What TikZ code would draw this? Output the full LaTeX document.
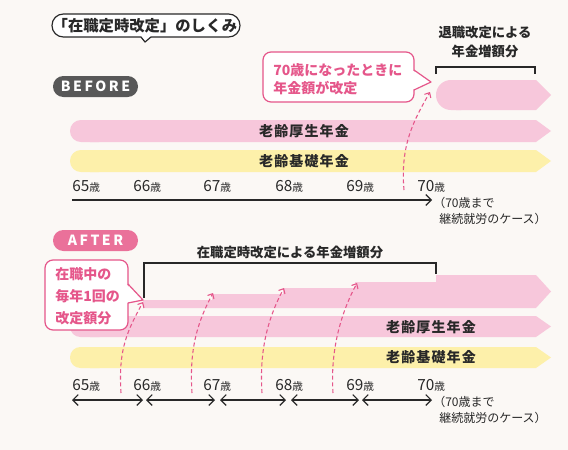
\documentclass[tikz,border=0pt]{standalone}
\usepackage{fontspec}
\newfontfamily\jp{Noto Sans CJK JP}
\usetikzlibrary{arrows.meta}
\definecolor{paper}{RGB}{251,248,245}
\definecolor{barpink}{RGB}{247,199,219}
\definecolor{baryellow}{RGB}{253,240,170}
\definecolor{rose}{RGB}{229,86,138}
\definecolor{afterpink}{RGB}{234,113,154}
\definecolor{ink}{RGB}{40,40,40}
\definecolor{pillgray}{RGB}{88,88,88}
% age label with the small "sai"
\newcommand\agetxt[1]{#1{\fontsize{8}{9}\selectfont 歳}}
% colour, left x, top y, bottom y, end radius (pt)
\newcommand\longbar[5]{%
  \fill[#1, rounded corners=#5] (#2,#3) rectangle ({#2+40},#4);
  \fill[#1] ({#2+20},#3) -- (536,#3) -- (551,{(#3+#4)/2}) -- (536,#4) -- ({#2+20},#4) -- cycle;}
\begin{document}
\begin{tikzpicture}[x=0.75pt, y=-0.75pt, >={Straight Barb[length=3pt,width=5.5pt]},
    jtxt/.style={font=\jp\fontsize{9}{12.3}\selectfont, text=ink, inner sep=0pt},
    bartxt/.style={font=\jp\bfseries\addfontfeature{LetterSpace=8}\fontsize{10.5}{13}\selectfont, text=ink, inner sep=0pt},
    headtxt/.style={font=\jp\bfseries\fontsize{10}{14.5}\selectfont, text=ink, inner sep=0pt, align=center},
    rosetxt/.style={font=\jp\bfseries\fontsize{10.5}{13.5}\selectfont, text=rose, inner sep=0pt, align=left, anchor=west},
    pilltxt/.style={font=\jp\bfseries\addfontfeature{LetterSpace=18}\fontsize{10.5}{12}\selectfont, text=white, inner sep=0pt},
    age/.style={font=\jp\fontsize{11.5}{12}\selectfont, text=ink, inner sep=0pt, anchor=west},
    callout/.style={draw=rose, line width=0.9pt, fill=white, rounded corners=6},
    bracket/.style={ink, line width=0.9pt},
    dasharr/.style={rose, dash pattern=on 3pt off 2pt, line width=0.8pt, ->},
    span/.style={ink, line width=0.9pt, {Straight Barb[length=4pt,width=8pt]}-{Straight Barb[length=4pt,width=8pt]}},
]
\useasboundingbox (0,0) rectangle (568,450);
\fill[paper] (0,0) rectangle (568,450);

% title bubble
\draw[ink, line width=0.9pt, fill=white, rounded corners=8.5] (52,14) rectangle (240,37);
\fill[white] (141,36) -- (145,42) -- (151,36) -- cycle;
\draw[ink, line width=0.9pt, line join=round] (141,37) -- (145,42) -- (151,37);
\node[font=\jp\bfseries\fontsize{11.5}{12}\selectfont, text=ink, inner sep=0pt] (title) at (145,25.5) {「在職定時改定」のしくみ};

% ---------- BEFORE ----------
\fill[pillgray, rounded corners=7.8] (53,76) rectangle (138,97);
\node[pilltxt] (before) at (95.5,86.5) {BEFORE};

% increase at 70
\draw[bracket] (436,74) -- (436,67) -- (535,67) -- (535,74);
\node[headtxt] (retireB) at (485,42) {退職改定による\\年金増額分};
\longbar{barpink}{436}{80}{110}{11.2}

% callout
\draw[callout] (263,52) rectangle (414,102);
\fill[white] (412,70) -- (431,82) -- (412,90) -- cycle;
\draw[rose, line width=0.9pt, line join=round] (414,70) -- (431,82) -- (414,90);
\node[rosetxt] (noteB) at (273,79) {70歳になったときに\\年金額が改定};

% the two pensions
\longbar{barpink}{70}{120}{142}{8.2}
\longbar{baryellow}{70}{150}{172}{8.2}
\node[bartxt] (koseiB) at (304,131) {老齢厚生年金};
\node[bartxt] (kisoB) at (304,161) {老齢基礎年金};

% ages
\foreach \x/\a in {72/65,133/66,203/67,275/68,346/69,417/70}
  \node[age] (b\a) at (\x,186) {\agetxt{\a}};
\coordinate (tlB0) at (72,200);
\coordinate (tlB1) at (432,200);
\draw[ink, line width=0.9pt, -{Straight Barb[length=4pt,width=8pt]}] (tlB0) -- (tlB1);
\node[jtxt, anchor=north west, align=left] (caseB) at (433,197) {（70歳まで\\\hspace*{0.5em}継続就労のケース）};

\coordinate (dB0) at (404,190);
\coordinate (dB1) at (430,92);
\draw[dasharr] (dB0) .. controls +(-4,-45) and +(-16,28) .. (dB1);

% ---------- AFTER ----------
\fill[afterpink, rounded corners=7.8] (53,230) rectangle (138,251);
\node[pilltxt] (after) at (95.5,240.5) {AFTER};

\draw[bracket] (144,298) -- (144,263) -- (436,263) -- (436,274);
\node[headtxt] (teijiA) at (290,252) {在職定時改定による年金増額分};

% yearly steps
\fill[barpink] (143,308) -- (143,300) -- (212,300) -- (212,294) -- (283,294) -- (283,288)
  -- (355,288) -- (355,282) -- (436,282) -- (436,275) -- (536,275) -- (551,291.5) -- (536,308) -- cycle;

\longbar{barpink}{70}{316}{337}{7.8}
\longbar{baryellow}{70}{347}{368}{7.8}
\node[bartxt] (koseiA) at (431,327) {老齢厚生年金};
\node[bartxt] (kisoA) at (431,357) {老齢基礎年金};

% callout, over the bars
\draw[callout] (45,260) rectangle (128,330);
\fill[white] (126,284) -- (143,300) -- (126,303) -- cycle;
\draw[rose, line width=0.9pt, line join=round] (128,284) -- (143,300) -- (128,303);
\node[rosetxt, font=\jp\bfseries\fontsize{10.5}{16.5}\selectfont] (noteA) at (55,296) {在職中の\\毎年1回の\\改定額分};

% ages
\foreach \x/\a in {72/65,133/66,203/67,275/68,346/69,417/70}
  \node[age] (a\a) at (\x,385) {\agetxt{\a}};
\foreach \i/\l/\r in {1/72/143,2/146/215,3/220/286,4/291/359,5/362/432}{
  \coordinate (sL\i) at (\l,400);
  \coordinate (sR\i) at (\r,400);
  \draw[span] (sL\i) -- (sR\i);
}
\node[jtxt, anchor=north west, align=left] (caseA) at (433,396) {（70歳まで\\\hspace*{0.5em}継続就労のケース）};

\foreach \i/\bx/\tx/\ty in {1/121/143/302,2/192/213/293,3/262/284/288,4/333/357/283}{
  \coordinate (dA\i) at (\bx,393);
  \coordinate (uA\i) at (\tx,\ty);
  \draw[dasharr] (dA\i) .. controls +(-3,-45) and +(-15,28) .. (uA\i);
}
\end{tikzpicture}
\end{document}
